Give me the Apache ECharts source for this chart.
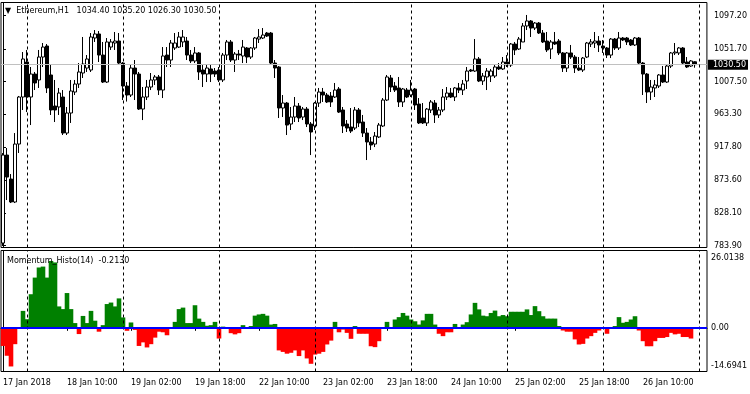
<!DOCTYPE html>
<html><head><meta charset="utf-8">
<script src="https://cdn.jsdelivr.net/npm/echarts@6/dist/echarts.min.js"></script>
<style>html,body{margin:0;padding:0;background:#fff}#c{width:750px;height:394px}</style>
</head><body><div id="c"></div>
<script>
const symbolName = 'Ethereum,H1';
const indicatorName = 'Momentum_Histo(14)';
const days = ['17 Jan','18 Jan','19 Jan','22 Jan','23 Jan','24 Jan','25 Jan','26 Jan'];
const firstHour = 18;
const tickLabels = ['17 Jan 2018','18 Jan 10:00','19 Jan 02:00','19 Jan 18:00','22 Jan 10:00','23 Jan 02:00','23 Jan 18:00','24 Jan 10:00','25 Jan 02:00','25 Jan 18:00','26 Jan 10:00'];
const priceTicks = [1097.20, 1051.70, 1007.50, 963.30, 917.80, 873.60, 828.10, 783.90];
const priceRange = [781.3, 1115.2];
const momentumTicks = [-14.6941, 0, 26.0138];
const momentumTickLabels = ['-14.6941', '0.00', '26.0138'];

const opens = [787.4,907.3,874.6,843.3,922.3,986.4,1034.1,986.4,1017.7,1009.6,1040.9,1055.9,1016.4,974.1,972.8,986.4,937.3,964.6,993.2,1004.1,
1019.1,1025.9,1023.2,1066.8,1072.3,1043.6,1006.8,1054.5,1060.0,1062.7,1032.7,1001.4,989.1,1025.9,1017.7,970.0,986.4,1000.0,1009.6,1013.7,
995.9,1043.6,1036.8,1053.2,1054.5,1061.4,1062.7,1043.6,1035.5,1046.4,1023.2,1017.7,1024.6,1021.8,1023.2,1009.6,1043.6,1061.4,1036.8,1045.0,
1042.3,1053.2,1040.9,1053.2,1065.4,1066.8,1073.6,1073.6,1032.7,1027.3,971.4,978.2,949.6,959.1,974.1,959.1,970.0,949.6,946.9,978.2,
993.2,989.1,987.7,986.4,997.3,968.7,949.6,945.5,944.1,968.7,952.3,937.3,925.1,922.3,931.9,946.9,982.3,1012.3,1001.4,998.7,
979.6,995.9,989.1,997.3,976.8,957.8,951.0,968.7,978.2,961.9,968.7,986.4,991.8,986.4,998.7,995.9,1008.2,1023.2,1021.8,1038.2,
1008.2,1013.7,1015.0,1015.0,1027.3,1024.6,1034.1,1030.0,1058.6,1051.8,1061.4,1083.2,1090.0,1080.4,1087.2,1073.6,1062.7,1051.8,1061.4,1062.7,
1046.4,1025.9,1046.4,1040.9,1025.9,1023.2,1040.9,1058.6,1060.0,1062.7,1055.9,1053.2,1043.6,1065.4,1053.2,1066.8,1066.8,1064.1,1057.3,1066.8,
1032.7,1017.7,993.2,998.7,1001.4,1016.4,1006.8,1028.6,1046.4,1046.4,1053.2,1034.1,1028.6,1034.4];
const highs = [910.0,916.9,881.4,937.3,987.8,1047.7,1050.5,1027.3,1020.5,1050.5,1060.0,1058.6,1030.0,1009.6,998.7,995.9,972.8,1009.6,1009.6,1032.7,
1068.2,1043.6,1073.6,1077.7,1076.3,1061.4,1066.8,1065.4,1075.0,1073.6,1034.1,1006.8,1030.0,1036.8,1020.5,1000.0,1009.6,1019.1,1016.4,1016.4,
1054.5,1054.5,1064.1,1073.6,1075.0,1077.7,1068.2,1050.5,1054.5,1047.7,1030.0,1030.0,1030.0,1025.9,1027.3,1046.4,1064.1,1064.1,1047.7,1050.5,
1064.1,1054.5,1054.5,1068.2,1079.1,1080.4,1075.0,1075.0,1036.8,1028.6,989.1,979.6,972.8,986.4,978.2,972.8,972.8,952.3,979.6,998.7,
998.7,991.8,993.2,1005.5,1000.0,972.8,955.0,971.4,972.8,971.4,961.9,944.1,931.9,938.7,951.0,985.0,1016.4,1016.4,1006.8,1013.7,
998.7,998.7,1009.6,998.7,985.0,978.2,971.4,982.3,982.3,972.8,997.3,1000.0,998.7,1000.0,1005.5,1009.6,1027.3,1024.6,1065.4,1040.9,
1019.1,1025.9,1024.6,1030.0,1032.7,1040.9,1043.6,1060.0,1061.4,1068.2,1087.2,1098.2,1091.3,1088.6,1088.6,1077.7,1075.0,1064.1,1075.0,1065.4,
1047.7,1047.7,1057.3,1043.6,1040.9,1040.9,1061.4,1065.4,1075.0,1069.5,1064.1,1054.5,1066.8,1066.8,1075.0,1068.2,1068.2,1065.4,1068.2,1068.2,
1034.1,1019.1,1009.6,1009.6,1017.7,1028.6,1030.0,1047.7,1060.0,1054.5,1054.5,1040.9,1036.8,1035.2];
const lows = [783.3,846.0,841.9,841.9,910.1,968.7,965.9,948.2,995.9,998.7,1027.3,991.8,961.9,952.3,961.9,934.6,934.6,951.0,989.1,998.7,
1012.3,1020.5,1020.5,1061.4,1034.1,1005.5,1005.5,1050.5,1050.5,1031.4,982.3,980.2,986.4,982.3,968.7,955.0,982.3,995.9,1002.8,989.1,
985.0,1027.3,1027.3,1050.5,1053.2,1054.5,1036.8,1032.7,1032.7,1009.6,1000.0,1006.8,1006.8,1013.7,1006.8,1006.8,1036.8,1034.1,1020.5,1036.8,
1032.7,1032.7,1038.2,1050.5,1060.0,1065.4,1068.2,1031.4,1012.3,957.8,959.1,934.6,941.4,952.3,952.3,955.0,945.5,907.3,941.4,972.8,
979.6,978.2,972.8,985.0,964.6,937.3,938.7,937.3,941.4,945.5,931.9,900.5,914.2,918.2,930.5,945.5,980.9,993.2,993.2,972.8,
972.8,985.0,986.4,968.7,949.6,949.6,946.9,964.6,951.0,957.8,965.9,982.3,985.0,980.9,991.8,989.1,997.3,1020.5,1020.5,1006.8,
1002.8,995.9,1006.8,1012.3,1023.2,1023.2,1027.3,1027.3,1043.6,1050.5,1061.4,1077.7,1068.2,1077.7,1072.3,1060.0,1047.7,1038.2,1057.3,1043.6,
1020.5,1020.5,1038.2,1019.1,1021.8,1020.5,1039.5,1054.5,1053.2,1047.7,1046.4,1039.5,1039.5,1050.5,1050.5,1062.7,1057.3,1055.9,1055.9,1031.4,
989.1,978.2,982.3,986.4,998.7,1005.5,1005.5,1025.9,1043.6,1043.6,1031.4,1025.9,1027.3,1026.3];
const closes = [907.3,877.3,843.3,922.3,986.4,1038.2,986.4,1017.7,1005.5,1040.9,1054.5,998.7,968.7,968.7,991.8,937.3,964.6,994.6,1004.1,1020.5,
1031.4,1038.2,1068.2,1072.3,1043.6,1006.8,1061.4,1061.4,1062.7,1032.7,1001.4,989.1,1025.9,1017.7,970.0,986.4,1000.0,1009.6,1013.7,995.9,
1042.3,1036.8,1060.0,1060.0,1068.2,1068.2,1043.6,1035.5,1046.4,1020.5,1017.7,1025.9,1017.7,1017.7,1009.6,1043.6,1061.4,1036.8,1045.0,1043.6,
1054.5,1040.9,1053.2,1066.8,1068.2,1070.9,1069.5,1032.7,1025.9,971.4,978.2,948.2,959.1,974.1,957.8,970.0,949.6,938.7,978.2,993.2,
989.1,979.6,979.6,995.9,965.9,946.9,944.1,940.0,968.7,951.0,937.3,925.1,921.0,933.2,948.2,982.3,1013.7,1000.0,995.9,979.6,
997.3,986.4,995.9,975.5,951.0,951.0,970.0,979.6,961.9,968.7,986.4,991.8,986.4,998.7,995.9,1004.1,1021.8,1021.8,1038.2,1008.2,
1015.0,1021.8,1021.8,1027.3,1024.6,1034.1,1030.0,1058.6,1050.5,1065.4,1083.2,1090.0,1080.4,1087.2,1073.6,1061.4,1050.5,1061.4,1058.6,1046.4,
1025.9,1046.4,1040.9,1025.9,1023.2,1039.5,1060.0,1061.4,1062.7,1057.3,1053.2,1043.6,1065.4,1053.2,1066.8,1064.1,1061.4,1057.3,1066.8,1032.7,
1017.7,993.2,1000.0,1002.8,1016.4,1006.8,1028.6,1046.4,1047.7,1053.2,1032.7,1027.3,1035.5,1030.5];
const momentum = [-6.1,-9.4,-13.0,-5.5,0,5.7,2.9,11.3,16.9,20.3,20.6,16.9,22.5,22.0,7.2,6.3,11.7,6.3,1.6,-2.1,
4.0,1.6,5.7,2.4,-1.3,0.9,8.0,8.5,7.2,9.9,3.5,-1.0,1.8,-0.7,-6.1,-4.9,-6.6,-5.5,-3.3,-1.3,
-1.5,-2.5,-0.4,2.0,6.3,6.8,1.6,1.6,7.6,3.1,2.0,0.7,0.9,2.0,-3.6,0.4,0.1,-1.8,-2.2,-1.8,
0.9,0.1,0.6,4.1,4.5,4.7,4.1,1.1,1.3,-7.6,-8.1,-8.7,-8.4,-7.6,-9.5,-7.6,-10.3,-12.1,-9.0,-8.7,
-8.1,-5.6,-4.3,2.0,-1.5,-0.6,-1.7,-3.7,0.6,-2.0,-2.0,-2.0,-6.2,-6.5,-4.5,0,2.0,0,2.8,3.6,
5.0,4.1,2.8,2.2,1.1,2.5,4.7,4.7,1.1,-2.0,-2.8,-1.5,-1.5,1.3,0,1.1,1.9,4.5,8.4,6.2,
4.1,3.9,5.0,5.8,3.9,4.3,3.9,5.4,5.4,5.4,5.4,6.2,4.3,7.3,5.6,3.9,3.1,3.1,3.1,0.6,
-0.9,-1.3,-1.3,-3.9,-5.6,-5.4,-3.6,-2.8,-1.7,-0.9,0,-2.0,0.2,0.6,3.6,1.7,2.0,2.8,3.9,-0.9,
-4.5,-6.2,-6.2,-4.5,-3.4,-3.4,-3.1,-1.7,-2.2,-2.0,-3.1,-3.1,-3.6,-0.213];

// trading calendar -> bar times
const categories = [];
days.forEach((d, k) => {
  for (let h = (k === 0 ? firstHour : 0); h < 24; h++) categories.push(d + ' ' + String(h).padStart(2, '0') + ':00');
});
const sepIdx = categories.map((c, i) => c.endsWith(' 00:00') ? i : -1).filter(i => i >= 0);
sepIdx.push(categories.length); // next day's midnight (chart shift area)
const tickIdx = tickLabels.map((t, i) => i === 0 ? 0 : categories.indexOf(t));

const FONT = 'DejaVu Sans';
const last = categories.length - 1;
const candleData = opens.map((o, i) => [i, o, closes[i], lows[i], highs[i]]);
const momData = momentum.map((v, i) => [i, v]);

const sepLines = sepIdx.map(i => ({ xAxis: i }));
const dashStyle = { type: [3, 3], color: '#000', width: 1 };

const chart = echarts.init(document.getElementById('c'), null, { renderer: 'canvas' });
chart.setOption({
  animation: false,
  backgroundColor: '#fff',
  textStyle: { fontFamily: FONT },
  title: [
    {
      left: 5, top: 6, padding: 0,
      text: '{t|▼}  ' + symbolName + '   ' + [opens[last], highs[last], lows[last], closes[last]].map(v => v.toFixed(2)).join(' '),
      textStyle: { fontFamily: FONT, fontSize: 8, fontWeight: 'normal', color: '#000', lineHeight: 10,
        rich: { t: { fontFamily: FONT, fontSize: 8, color: '#000', lineHeight: 10 } } }
    },
    {
      left: 7, top: 256, padding: 0,
      text: indicatorName + '  ' + momentum[last].toFixed(4),
      textStyle: { fontFamily: FONT, fontSize: 8, fontWeight: 'normal', color: '#000', lineHeight: 10 }
    }
  ],
  grid: [
    { left: 1, right: 43, top: 2.5, height: 245, show: true, borderColor: '#000', borderWidth: 1, backgroundColor: 'transparent' },
    { left: 1, right: 43, top: 250.5, height: 121, show: true, borderColor: '#000', borderWidth: 1, backgroundColor: 'transparent' }
  ],
  xAxis: [
    { type: 'value', gridIndex: 0, min: -0.5, max: categories.length + 2, show: false, splitLine: { show: false } },
    { type: 'value', gridIndex: 1, min: -0.5, max: categories.length + 2, position: 'bottom',
      splitLine: { show: false },
      axisLine: { show: true, lineStyle: { color: '#000', width: 1 } },
      axisTick: { show: true, customValues: tickIdx, length: 3, lineStyle: { color: '#000' } },
      axisLabel: { customValues: tickIdx, formatter: v => tickLabels[tickIdx.indexOf(v)], align: 'left',
        color: '#000', fontFamily: FONT, fontSize: 8, margin: 7 } }
  ],
  yAxis: [
    { type: 'value', gridIndex: 0, position: 'right', min: priceRange[0], max: priceRange[1],
      splitLine: { show: false },
      axisLine: { show: true, lineStyle: { color: '#000' } },
      axisTick: { show: true, customValues: priceTicks, length: 3, lineStyle: { color: '#000' } },
      axisLabel: { customValues: priceTicks, formatter: v => v.toFixed(2), color: '#000', fontFamily: FONT, fontSize: 8, margin: 7 } },
    { type: 'value', gridIndex: 1, position: 'right', min: momentumTicks[0], max: momentumTicks[2],
      splitLine: { show: false },
      axisLine: { show: true, lineStyle: { color: '#000' } },
      axisTick: { show: true, customValues: momentumTicks, length: 3, lineStyle: { color: '#000' } },
      axisLabel: { customValues: momentumTicks,
        formatter: v => {
          const k = momentumTicks.indexOf(v);
          const s = momentumTickLabels[k];
          return k === 2 ? '{hi|' + s + '}' : (k === 0 ? '{lo|' + s + '}' : s);
        },
        rich: { hi: { padding: [4, 0, 0, 0], lineHeight: 10 }, lo: { padding: [0, 0, 1, 0], lineHeight: 10 } },
        verticalAlignMinLabel: 'bottom', verticalAlignMaxLabel: 'top',
        color: '#000', fontFamily: FONT, fontSize: 8, margin: 4 } }
  ],
  series: [
    {
      type: 'candlestick', xAxisIndex: 0, yAxisIndex: 0, data: candleData, barWidth: 3,
      itemStyle: { color: '#fff', color0: '#000', borderColor: '#000', borderColor0: '#000', borderWidth: 1 },
      markLine: {
        silent: true, symbol: ['none', 'none'], animation: false,
        label: { show: false },
        lineStyle: dashStyle,
        data: [
          { yAxis: closes[last], lineStyle: { type: 'solid', color: '#c0c0c0', width: 1 },
            label: { show: true, position: 'end', distance: 1, formatter: closes[last].toFixed(2),
              backgroundColor: '#000', color: '#fff', fontFamily: FONT, fontSize: 8, lineHeight: 9, padding: [1, 2, 0, 5] } },
          ...sepLines
        ]
      }
    },
    {
      type: 'bar', xAxisIndex: 1, yAxisIndex: 1, data: momData, barWidth: 4.6,
      itemStyle: { color: p => (p.value[1] >= 0 ? '#008000' : '#ff0000') },
      markLine: {
        silent: true, symbol: ['none', 'none'], animation: false,
        label: { show: false },
        lineStyle: dashStyle,
        data: [
          ...sepLines,
          { yAxis: 0, lineStyle: { type: 'solid', color: '#0000ff', width: 2 } }
        ]
      }
    }
  ]
});
</script>
</body></html>
